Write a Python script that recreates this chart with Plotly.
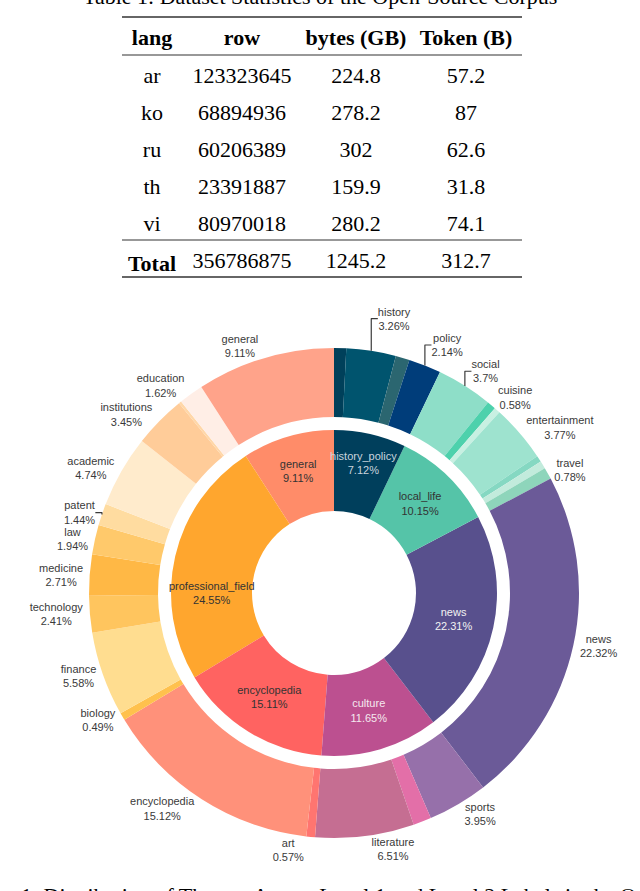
import plotly.graph_objects as go

# ---------------- table data ----------------
tbl_header = ["lang", "row", "bytes (GB)", "Token (B)"]
langs = ["ar", "ko", "ru", "th", "vi"]
rows = [123323645, 68894936, 60206389, 23391887, 80970018]
bytes_gb = [224.8, 278.2, 302, 159.9, 280.2]
tokens_b = [57.2, 87, 62.6, 31.8, 74.1]
total_label = "Total"
total_row = 356786875
total_bytes = 1245.2
total_tokens = 312.7

# ---------------- level-1 (inner ring) ----------------
inner_labels = ["history_policy", "local_life", "news", "culture",
                "encyclopedia", "professional_field", "general"]
inner_pct = [7.12, 10.15, 22.31, 11.65, 15.11, 24.55, 9.11]
inner_colors = ["#003F5C", "#55C4A8", "#58508D", "#BC5090",
                "#FF6361", "#FFA62E", "#FF8C69"]
inner_text_colors = ["#C9D3DC", "#333333", "#F2F2F2", "#F5E8EF",
                     "#333333", "#333333", "#333333"]

# ---------------- level-2 (outer ring) ----------------
outer_labels = ["hp_other_1", "history", "hp_other_2", "policy",
                "social", "cuisine", "ll_other_1", "entertainment",
                "ll_other_2", "ll_other_3", "travel",
                "news",
                "sports", "cu_other_1", "literature",
                "art", "encyclopedia",
                "biology", "finance", "technology", "medicine", "law",
                "patent", "academic", "institutions", "pf_other_1",
                "education",
                "general"]
# slice sizes
outer_share = [0.80, 3.26, 0.92, 2.14,
               3.70, 0.58, 0.40, 3.77, 0.42, 0.50, 0.78,
               22.32,
               3.95, 1.19, 6.51,
               0.57, 14.54,
               0.49, 5.58, 2.41, 2.71, 1.94, 1.44, 4.74, 3.45, 0.17, 1.62,
               9.11]
# printed percentages (None = label not shown)
outer_pct = [None, 3.26, None, 2.14,
             3.7, 0.58, None, 3.77, None, None, 0.78,
             22.32,
             3.95, None, 6.51,
             0.57, 15.12,
             0.49, 5.58, 2.41, 2.71, 1.94, 1.44, 4.74, 3.45, None, 1.62,
             9.11]
outer_colors = ["#00405A", "#00546E", "#2B6670", "#003D7A",
                "#8EDEC8", "#4DD1AC", "#C8F0E2", "#9EE3CF", "#85D8C2",
                "#C2EBDC", "#8ED5BB",
                "#6B5A98",
                "#9670AA", "#E36FA8", "#C56E92",
                "#FF7570", "#FF917A",
                "#FFC14D", "#FFDD90", "#FFC55E", "#FFB845", "#FFC96B",
                "#FFDCA0", "#FFEBCC", "#FFCC99", "#FFD7A8", "#FFEEE6",
                "#FFA38A"]

# ---------------- layout constants ----------------
W, H = 640, 891
CX, CY = 334, 593          # donut centre (px)
R_OUT, R_OUT_HOLE = 245, 176
R_IN, R_IN_HOLE = 163, 82
TBL_L, TBL_R, TBL_TOP = 122, 522, 17
HEADER_H, ROW_H = 38, 37
col_widths = [60, 120, 108, 112]
NBSP = "\u00a0"


def px_dom_x(r):
    return [(CX - r) / W, (CX + r) / W]


def px_dom_y(r):
    cy = 1 - CY / H
    return [cy - r / H, cy + r / H]


def fmt(v):
    return str(v)


fig = go.Figure()

# table
cells = [
    langs + ["<b>%s</b>" % total_label],
    [fmt(v) for v in rows] + [fmt(total_row)],
    [fmt(v) for v in bytes_gb] + [fmt(total_bytes)],
    [fmt(v) for v in tokens_b] + [fmt(total_tokens)],
]
fig.add_trace(go.Table(
    domain=dict(x=[TBL_L / W, TBL_R / W], y=[0.5, 1 - TBL_TOP / H]),
    columnwidth=col_widths,
    header=dict(values=["<b>%s</b>" % h.replace(" ", NBSP) for h in tbl_header],
                fill_color="white", line_color="white", align="center",
                height=HEADER_H,
                font=dict(family="Liberation Serif", size=22, color="black")),
    cells=dict(values=cells, fill_color="white", line_color="white",
               align="center", height=ROW_H,
               font=dict(family="Liberation Serif", size=22, color="black")),
))

# outer ring
outer_text = ["" if p is None else "%s<br>%s%%" % (l, p)
              for l, p in zip(outer_labels, outer_pct)]
fig.add_trace(go.Pie(
    labels=outer_labels, values=outer_share, text=outer_text,
    textinfo="text", textposition="outside", sort=False,
    direction="clockwise", rotation=0, hole=R_OUT_HOLE / R_OUT,
    marker=dict(colors=outer_colors, line=dict(width=0)),
    outsidetextfont=dict(family="Liberation Sans", size=9.5, color="#3A3A3A"),
    domain=dict(x=px_dom_x(R_OUT), y=px_dom_y(R_OUT)),
    showlegend=False, hoverinfo="skip",
))

# inner ring: listed in reverse and drawn counter-clockwise so that the
# layout equals the clockwise order while the first category's label is
# drawn last (on top). Plotly's counter-clockwise mode ends the first slice
# at the rotation angle, so rotate back by that slice's share.
inner_text = ["%s<br>%s%%" % (l, p) for l, p in zip(inner_labels, inner_pct)]
first_share_deg = inner_pct[-1] / sum(inner_pct) * 360
fig.add_trace(go.Pie(
    labels=inner_labels[::-1], values=inner_pct[::-1], text=inner_text[::-1],
    textinfo="text", textposition="inside", insidetextorientation="horizontal",
    sort=False, direction="counterclockwise", rotation=-first_share_deg,
    hole=R_IN_HOLE / R_IN,
    marker=dict(colors=inner_colors[::-1], line=dict(width=0)),
    insidetextfont=dict(family="Liberation Sans", size=11,
                        color=inner_text_colors[::-1]),
    domain=dict(x=px_dom_x(R_IN), y=px_dom_y(R_IN)),
    showlegend=False, hoverinfo="skip",
))

# booktabs rules
rule_px = [(TBL_TOP, 1.6), (TBL_TOP + HEADER_H, 1.1),
           (TBL_TOP + HEADER_H + ROW_H * len(langs), 1.1),
           (TBL_TOP + HEADER_H + ROW_H * (len(langs) + 1), 1.6)]
for ypx, lw in rule_px:
    fig.add_shape(type="line", xref="paper", yref="paper",
                  x0=TBL_L / W, x1=TBL_R / W, y0=1 - ypx / H, y1=1 - ypx / H,
                  line=dict(color="#333333", width=lw))

# captions (cropped by page edges, as in the reference)
fig.add_annotation(text="Table 1: Dataset Statistics of the Open-Source Corpus",
                   xref="paper", yref="paper", x=320 / W, y=1 - 11 / H,
                   xanchor="center", yanchor="bottom", showarrow=False,
                   font=dict(family="Liberation Serif", size=22, color="black"))
fig.add_annotation(text="Figure 1: Distribution of Themes Across Level 1 and Level 2 Labels in the Open-Source Corpus",
                   xref="paper", yref="paper", x=-44 / W, y=1 - 881 / H,
                   xanchor="left", yanchor="top", showarrow=False,
                   font=dict(family="Liberation Serif", size=22, color="black"))

fig.update_layout(
    width=W, height=H, margin=dict(l=0, r=0, t=0, b=0),
    paper_bgcolor="white", plot_bgcolor="white",
    uniformtext=dict(minsize=11, mode="show"),
    font=dict(family="Liberation Sans"),
)

fig.write_html("out.html", config={"displayModeBar": False},
               post_script="document.body.style.margin='0';")
